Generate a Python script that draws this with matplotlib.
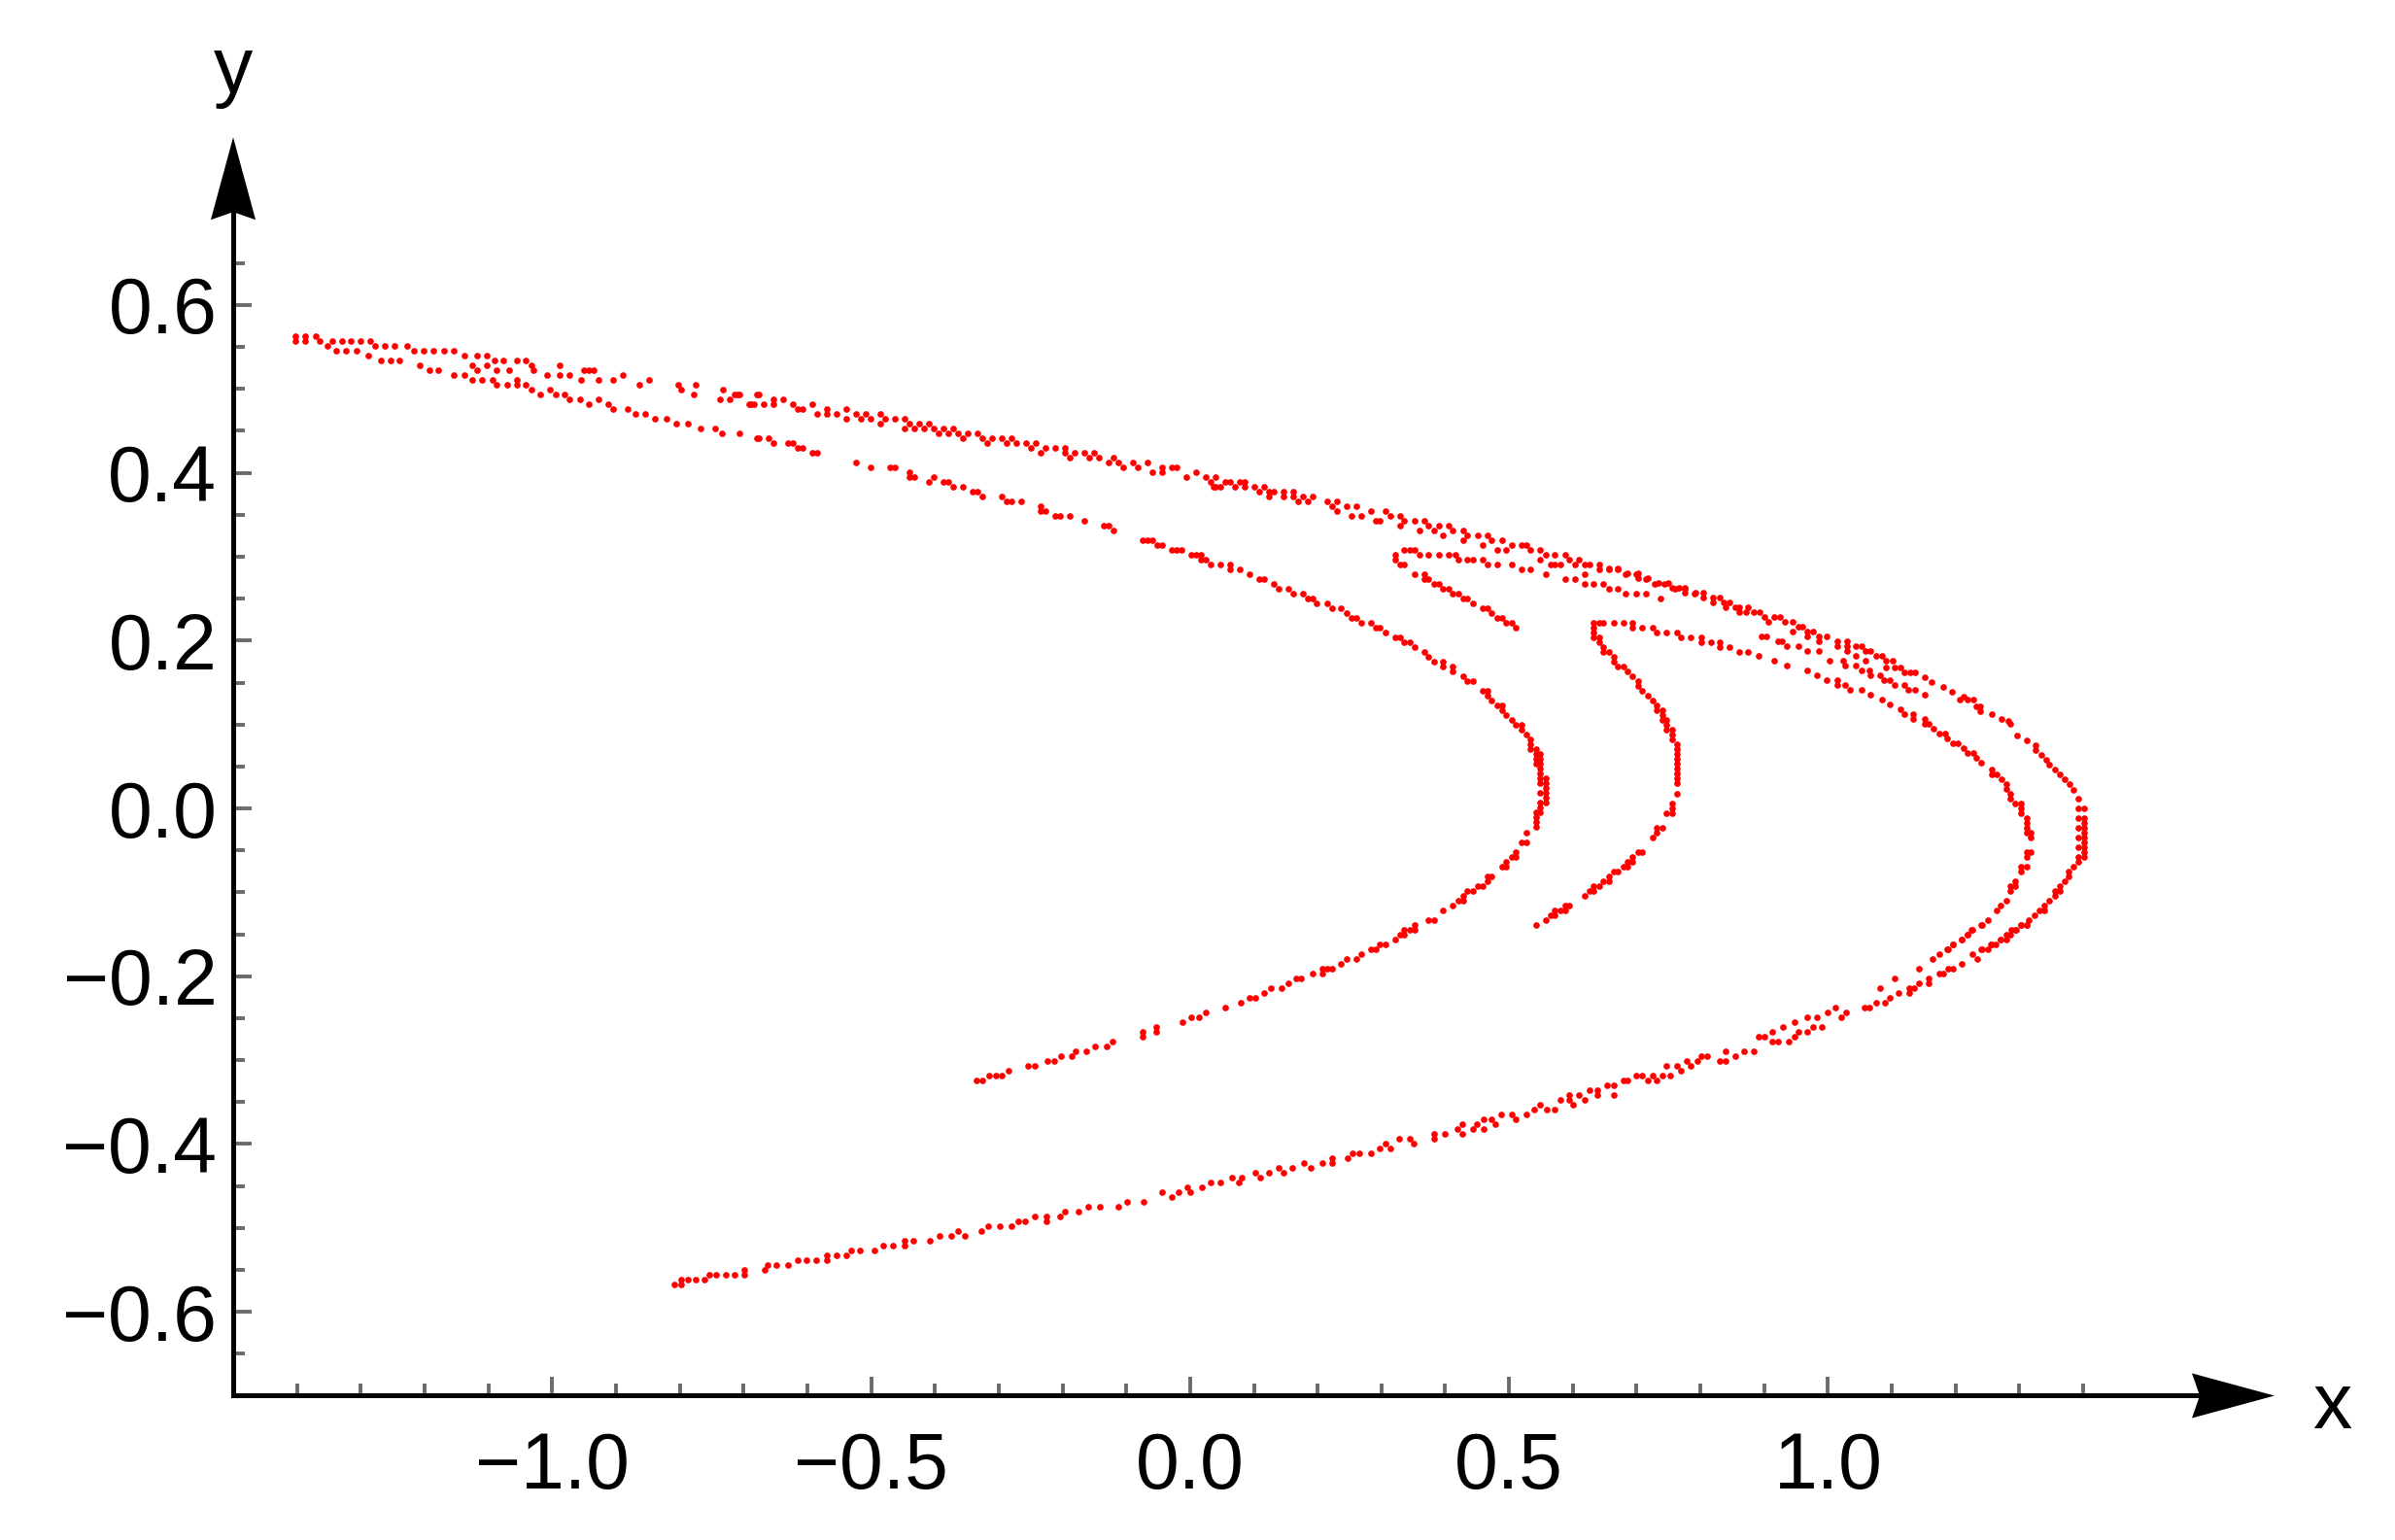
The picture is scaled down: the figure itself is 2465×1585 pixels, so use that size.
import numpy as np
import matplotlib
matplotlib.use("Agg")
import matplotlib.pyplot as plt
from matplotlib.patches import Polygon
import matplotlib.transforms as mtransforms

plt.rcParams['font.family'] = ['Liberation Sans', 'DejaVu Sans']

# ---------------- data: points, grouped by strand ----------------
band_left = [
    (-1.402, 0.563), (-1.387, 0.563), (-1.371, 0.563), (-1.402, 0.557), (-1.387, 0.557), (-1.364, 0.557),
    (-1.353, 0.551), (-1.345, 0.557), (-1.330, 0.557), (-1.315, 0.557), (-1.300, 0.557), (-1.285, 0.557),
    (-1.277, 0.551), (-1.262, 0.551), (-1.247, 0.551), (-1.228, 0.551), (-1.216, 0.545), (-1.201, 0.545),
    (-1.186, 0.545), (-1.170, 0.545), (-1.155, 0.545), (-1.137, 0.540), (-1.117, 0.540), (-1.102, 0.540),
    (-1.091, 0.534), (-1.076, 0.534), (-1.056, 0.534), (-1.041, 0.534), (-1.033, 0.528), (-0.988, 0.528),
    (-0.950, 0.522), (-0.935, 0.522),
    (-1.338, 0.545), (-1.323, 0.545), (-1.307, 0.545), (-1.289, 0.540), (-1.269, 0.534), (-1.254, 0.534),
    (-1.239, 0.534), (-1.208, 0.528), (-1.193, 0.522), (-1.178, 0.522), (-1.155, 0.517), (-1.137, 0.517),
    (-1.125, 0.511), (-1.110, 0.511), (-1.087, 0.505), (-1.071, 0.505), (-1.056, 0.505), (-1.041, 0.505),
    (-1.033, 0.499), (-1.018, 0.493), (-1.003, 0.499), (-0.995, 0.493), (-0.980, 0.493), (-0.973, 0.488),
    (-0.957, 0.488), (-0.942, 0.482), (-0.927, 0.488), (-0.912, 0.482), (-0.904, 0.476), (-0.881, 0.476),
    (-0.869, 0.470), (-0.854, 0.470), (-0.839, 0.464), (-0.820, 0.464), (-0.805, 0.459), (-0.787, 0.459),
    (-0.767, 0.453), (-0.744, 0.453), (-0.734, 0.447), (-0.706, 0.447), (-0.679, 0.441),
    (-1.125, 0.528), (-1.117, 0.522), (-1.102, 0.528), (-1.094, 0.511), (-1.087, 0.522), (-1.067, 0.522),
    (-1.056, 0.511), (-1.030, 0.522), (-1.008, 0.517), (-0.988, 0.517), (-0.973, 0.517), (-0.954, 0.511),
    (-0.942, 0.522), (-0.927, 0.511), (-0.904, 0.511), (-0.889, 0.517), (-0.863, 0.505), (-0.848, 0.511),
    (-0.802, 0.505), (-0.798, 0.499), (-0.775, 0.505), (-0.778, 0.493), (-0.732, 0.499), (-0.737, 0.488),
    (-0.709, 0.493), (-0.688, 0.482), (-0.679, 0.493),
]

band_mid = [
    (-0.714, 0.493), (-0.706, 0.493), (-0.721, 0.488), (-0.691, 0.482), (-0.683, 0.482), (-0.676, 0.493),
    (-0.668, 0.482), (-0.653, 0.488), (-0.653, 0.482), (-0.638, 0.488), (-0.623, 0.482), (-0.615, 0.476),
    (-0.607, 0.476), (-0.592, 0.482), (-0.584, 0.470), (-0.569, 0.476), (-0.569, 0.470), (-0.554, 0.470),
    (-0.539, 0.476), (-0.539, 0.464), (-0.524, 0.470), (-0.516, 0.464), (-0.508, 0.470), (-0.501, 0.464),
    (-0.486, 0.470), (-0.486, 0.459), (-0.478, 0.464), (-0.463, 0.464), (-0.447, 0.464), (-0.447, 0.453),
    (-0.440, 0.459), (-0.432, 0.453), (-0.425, 0.459), (-0.417, 0.453), (-0.409, 0.459), (-0.402, 0.453),
    (-0.394, 0.447), (-0.387, 0.453), (-0.379, 0.447), (-0.371, 0.453), (-0.364, 0.447), (-0.356, 0.441),
    (-0.349, 0.447), (-0.333, 0.447), (-0.326, 0.441), (-0.318, 0.435), (-0.311, 0.441), (-0.295, 0.441),
    (-0.288, 0.435), (-0.280, 0.441), (-0.272, 0.435), (-0.257, 0.435), (-0.250, 0.430), (-0.242, 0.435),
    (-0.234, 0.424), (-0.227, 0.430), (-0.212, 0.430), (-0.196, 0.424), (-0.196, 0.430), (-0.189, 0.418),
    (-0.181, 0.424), (-0.166, 0.424), (-0.158, 0.418), (-0.151, 0.424), (-0.143, 0.418), (-0.128, 0.412),
    (-0.120, 0.418), (-0.113, 0.412), (-0.105, 0.406), (-0.090, 0.412), (-0.082, 0.406), (-0.067, 0.412),
    (-0.059, 0.401), (-0.044, 0.406), (-0.044, 0.401), (-0.029, 0.406), (-0.021, 0.406), (-0.006, 0.395),
    (0.009, 0.401), (0.024, 0.395), (0.032, 0.389), (0.037, 0.383),
]

band_right = [
    (0.040, 0.395), (0.040, 0.383), (0.047, 0.383), (0.055, 0.389), (0.062, 0.389), (0.070, 0.383),
    (0.078, 0.389), (0.085, 0.389), (0.085, 0.383), (0.100, 0.383), (0.108, 0.378), (0.116, 0.383),
    (0.123, 0.378), (0.123, 0.372), (0.131, 0.378), (0.146, 0.378), (0.146, 0.372), (0.161, 0.378),
    (0.161, 0.372), (0.169, 0.366), (0.177, 0.372), (0.184, 0.366), (0.192, 0.372), (0.215, 0.366),
    (0.222, 0.360), (0.230, 0.366), (0.230, 0.354), (0.245, 0.360), (0.253, 0.349), (0.260, 0.360),
    (0.268, 0.349), (0.283, 0.354), (0.291, 0.343), (0.298, 0.343), (0.306, 0.354), (0.314, 0.349),
    (0.329, 0.349), (0.329, 0.337), (0.336, 0.343), (0.352, 0.343), (0.359, 0.331), (0.367, 0.343),
    (0.374, 0.337), (0.382, 0.331), (0.390, 0.337), (0.397, 0.325), (0.405, 0.337), (0.412, 0.331),
    (0.428, 0.331), (0.428, 0.320), (0.435, 0.325), (0.451, 0.325), (0.458, 0.314), (0.466, 0.325),
    (0.473, 0.320), (0.481, 0.308), (0.489, 0.320), (0.496, 0.308), (0.504, 0.314), (0.519, 0.314),
    (0.527, 0.314), (0.534, 0.308), (0.549, 0.308), (0.557, 0.302), (0.572, 0.302), (0.588, 0.302),
    (0.595, 0.296), (0.603, 0.291), (0.610, 0.296), (0.618, 0.291), (0.626, 0.291), (0.641, 0.291),
    (0.641, 0.285), (0.656, 0.285), (0.671, 0.285), (0.683, 0.279), (0.699, 0.279), (0.714, 0.273),
    (0.729, 0.268), (0.744, 0.268), (0.760, 0.262), (0.775, 0.262), (0.790, 0.256),
    (0.618, 0.279), (0.618, 0.268), (0.633, 0.268), (0.648, 0.268), (0.656, 0.262), (0.671, 0.262),
    (0.683, 0.256), (0.699, 0.256), (0.714, 0.256), (0.737, 0.250), (0.588, 0.273), (0.603, 0.273),
    (0.557, 0.279), (0.565, 0.291), (0.580, 0.291), (0.549, 0.296),
]

hook_small = [
    (0.321, 0.302), (0.321, 0.296), (0.329, 0.291), (0.336, 0.291), (0.336, 0.308), (0.344, 0.308),
    (0.352, 0.308), (0.359, 0.302), (0.374, 0.302), (0.390, 0.302), (0.405, 0.302), (0.416, 0.302),
    (0.420, 0.296), (0.435, 0.296), (0.443, 0.296), (0.458, 0.296), (0.466, 0.291), (0.481, 0.291),
    (0.504, 0.291), (0.519, 0.285), (0.534, 0.285), (0.572, 0.291),
    (0.352, 0.279), (0.367, 0.279), (0.367, 0.273), (0.374, 0.273), (0.382, 0.268), (0.390, 0.268),
    (0.397, 0.262), (0.405, 0.262), (0.412, 0.256), (0.420, 0.256), (0.428, 0.250), (0.435, 0.250),
    (0.443, 0.244), (0.458, 0.239), (0.466, 0.239), (0.473, 0.233), (0.481, 0.227), (0.489, 0.227),
    (0.496, 0.221), (0.504, 0.221), (0.511, 0.215),
]

inner_c_upper = [
    (-0.676, 0.441), (-0.661, 0.441), (-0.653, 0.435), (-0.630, 0.435), (-0.623, 0.435), (-0.615, 0.430),
    (-0.607, 0.430), (-0.592, 0.424), (-0.584, 0.424), (-0.524, 0.412), (-0.501, 0.406), (-0.470, 0.406),
    (-0.463, 0.406), (-0.440, 0.401), (-0.440, 0.395), (-0.432, 0.395), (-0.409, 0.389), (-0.402, 0.395),
    (-0.387, 0.389), (-0.379, 0.389), (-0.371, 0.383), (-0.356, 0.383), (-0.341, 0.378), (-0.333, 0.378),
    (-0.326, 0.372), (-0.295, 0.372), (-0.288, 0.366), (-0.280, 0.366), (-0.265, 0.366), (-0.234, 0.360),
    (-0.234, 0.354), (-0.227, 0.354), (-0.212, 0.349), (-0.204, 0.349), (-0.189, 0.349), (-0.166, 0.343),
    (-0.135, 0.337), (-0.128, 0.337), (-0.120, 0.331), (-0.075, 0.320), (-0.067, 0.320), (-0.059, 0.320),
    (-0.052, 0.314), (-0.044, 0.314), (-0.029, 0.308), (-0.021, 0.308), (-0.014, 0.308), (0.002, 0.302),
    (0.009, 0.302), (0.017, 0.302), (0.017, 0.296), (0.024, 0.296), (0.032, 0.291),
    (0.047, 0.291), (0.062, 0.291), (0.062, 0.285), (0.078, 0.285), (0.093, 0.279), (0.108, 0.273),
    (0.116, 0.273), (0.131, 0.268), (0.139, 0.262), (0.154, 0.262), (0.161, 0.256), (0.177, 0.256),
    (0.184, 0.250), (0.192, 0.250), (0.199, 0.244), (0.215, 0.244), (0.222, 0.239), (0.237, 0.239),
    (0.245, 0.233), (0.253, 0.227), (0.260, 0.227), (0.268, 0.221), (0.283, 0.221), (0.291, 0.215),
    (0.298, 0.215), (0.306, 0.210), (0.321, 0.204), (0.329, 0.204), (0.336, 0.198), (0.344, 0.198),
    (0.352, 0.192), (0.367, 0.186), (0.374, 0.181), (0.382, 0.175), (0.397, 0.175), (0.397, 0.169),
    (0.412, 0.169), (0.412, 0.163), (0.428, 0.158), (0.435, 0.152), (0.443, 0.152), (0.458, 0.140),
    (0.466, 0.140), (0.466, 0.134), (0.473, 0.129), (0.481, 0.123), (0.489, 0.123), (0.489, 0.117),
    (0.496, 0.111), (0.504, 0.105), (0.511, 0.100), (0.519, 0.100), (0.519, 0.094), (0.527, 0.088),
    (0.534, 0.082), (0.534, 0.076), (0.534, 0.071),
]

inner_c_lower = [
    (0.542, 0.071), (0.542, 0.065), (0.542, 0.059), (0.542, 0.053), (0.549, 0.065), (0.549, 0.059),
    (0.549, 0.053), (0.549, 0.047), (0.549, 0.042), (0.549, 0.036), (0.557, 0.036), (0.557, 0.030),
    (0.557, 0.024), (0.557, 0.019), (0.557, 0.013), (0.557, 0.007), (0.549, 0.030), (0.549, 0.019),
    (0.549, 0.007), (0.549, 0.001), (0.549, -0.005), (0.542, -0.005), (0.542, -0.010), (0.542, -0.016),
    (0.542, -0.022), (0.527, -0.029), (0.519, -0.041), (0.527, -0.041), (0.511, -0.052), (0.511, -0.058),
    (0.504, -0.058), (0.496, -0.064), (0.496, -0.069), (0.489, -0.069), (0.473, -0.081), (0.466, -0.081),
    (0.466, -0.087), (0.458, -0.093), (0.451, -0.093), (0.443, -0.098), (0.435, -0.098), (0.428, -0.104),
    (0.428, -0.110), (0.420, -0.110), (0.412, -0.116), (0.397, -0.122), (0.382, -0.133), (0.374, -0.133),
    (0.352, -0.139), (0.352, -0.145), (0.344, -0.145), (0.336, -0.145), (0.336, -0.151), (0.329, -0.151),
    (0.321, -0.156), (0.306, -0.162), (0.298, -0.162), (0.291, -0.168), (0.283, -0.168), (0.268, -0.174),
    (0.260, -0.180), (0.245, -0.180), (0.237, -0.185), (0.222, -0.191), (0.215, -0.191), (0.207, -0.191),
    (0.207, -0.197), (0.192, -0.197), (0.174, -0.203), (0.167, -0.203), (0.154, -0.208), (0.143, -0.214),
    (0.126, -0.214), (0.116, -0.220), (0.103, -0.226), (0.093, -0.226), (0.079, -0.232), (0.055, -0.237),
    (0.024, -0.243), (0.014, -0.249), (0.002, -0.249), (-0.012, -0.255), (-0.053, -0.261), (-0.053, -0.266),
    (-0.075, -0.266), (-0.075, -0.272), (-0.122, -0.278), (-0.131, -0.284), (-0.149, -0.284), (-0.163, -0.290),
    (-0.180, -0.290), (-0.186, -0.295), (-0.202, -0.295), (-0.213, -0.301), (-0.224, -0.301), (-0.244, -0.307),
    (-0.254, -0.307), (-0.285, -0.313), (-0.295, -0.318), (-0.304, -0.318), (-0.315, -0.318), (-0.326, -0.324),
    (-0.335, -0.324),
]

middle_c = [
    (0.633, 0.221), (0.633, 0.215), (0.633, 0.210), (0.633, 0.204), (0.641, 0.221), (0.648, 0.221),
    (0.664, 0.221), (0.679, 0.221), (0.694, 0.221), (0.694, 0.215), (0.709, 0.215), (0.725, 0.215),
    (0.732, 0.210), (0.747, 0.210), (0.763, 0.210), (0.770, 0.204), (0.785, 0.204), (0.801, 0.204),
    (0.801, 0.198), (0.816, 0.198), (0.831, 0.198), (0.831, 0.192), (0.846, 0.192), (0.861, 0.186),
    (0.874, 0.186),
    (0.641, 0.204), (0.641, 0.198), (0.648, 0.192), (0.648, 0.186), (0.656, 0.186), (0.664, 0.181),
    (0.664, 0.175), (0.671, 0.169), (0.679, 0.169), (0.686, 0.163), (0.694, 0.158), (0.702, 0.152),
    (0.702, 0.146), (0.709, 0.140), (0.717, 0.134), (0.725, 0.129), (0.732, 0.123), (0.732, 0.117),
    (0.740, 0.117), (0.740, 0.111), (0.740, 0.105), (0.747, 0.105), (0.747, 0.100), (0.747, 0.094),
    (0.755, 0.094), (0.755, 0.088), (0.755, 0.082), (0.763, 0.076), (0.763, 0.071), (0.763, 0.065),
    (0.763, 0.059), (0.763, 0.053), (0.763, 0.047), (0.763, 0.042), (0.763, 0.036), (0.763, 0.030),
    (0.763, 0.017), (0.755, 0.006), (0.755, 0.000), (0.755, -0.006), (0.747, -0.006), (0.740, -0.023),
    (0.732, -0.023), (0.732, -0.029), (0.725, -0.035), (0.709, -0.052), (0.702, -0.052), (0.694, -0.058),
    (0.694, -0.064), (0.686, -0.064), (0.686, -0.069), (0.679, -0.069), (0.671, -0.075), (0.664, -0.075),
    (0.656, -0.081), (0.656, -0.087), (0.648, -0.087), (0.641, -0.093), (0.633, -0.093), (0.633, -0.098),
    (0.626, -0.098), (0.618, -0.104), (0.595, -0.116), (0.588, -0.116), (0.588, -0.122), (0.580, -0.122),
    (0.572, -0.122), (0.572, -0.127), (0.565, -0.127), (0.557, -0.133), (0.542, -0.139),
]

tip_outer = [
    (0.656, 0.286), (0.670, 0.286), (0.686, 0.280), (0.702, 0.280), (0.702, 0.274), (0.718, 0.274),
    (0.734, 0.269), (0.750, 0.269), (0.755, 0.263), (0.766, 0.263), (0.776, 0.263), (0.776, 0.257),
    (0.793, 0.257), (0.804, 0.257), (0.804, 0.251), (0.819, 0.251), (0.830, 0.251), (0.819, 0.246),
    (0.836, 0.246), (0.846, 0.246), (0.840, 0.240), (0.854, 0.240), (0.861, 0.240), (0.861, 0.234),
    (0.875, 0.240), (0.871, 0.234), (0.883, 0.234), (0.893, 0.234), (0.900, 0.228), (0.907, 0.222),
    (0.915, 0.228), (0.924, 0.228), (0.932, 0.222), (0.945, 0.222), (0.945, 0.211), (0.953, 0.217),
    (0.960, 0.217), (0.968, 0.211), (0.977, 0.211), (0.968, 0.205), (0.985, 0.205), (0.998, 0.205),
    (0.985, 0.199), (1.014, 0.199), (1.014, 0.193), (1.030, 0.199), (1.030, 0.193), (1.030, 0.188),
    (1.044, 0.193), (1.052, 0.193), (1.044, 0.182), (1.059, 0.188), (1.067, 0.188), (1.059, 0.176),
    (1.076, 0.182), (1.084, 0.182), (1.091, 0.176), (1.102, 0.176), (1.091, 0.168), (1.105, 0.168),
    (1.113, 0.168), (1.120, 0.162), (1.129, 0.162), (1.137, 0.162), (1.151, 0.156), (1.163, 0.151),
    (1.180, 0.145), (1.195, 0.139), (1.212, 0.133), (1.228, 0.130), (1.239, 0.122), (1.239, 0.116),
    (1.257, 0.112), (1.272, 0.107), (1.282, 0.104), (1.286, 0.101), (1.297, 0.087), (1.311, 0.081),
    (1.326, 0.075), (1.326, 0.069), (1.335, 0.064), (1.342, 0.058), (1.347, 0.052), (1.356, 0.046),
    (1.364, 0.041), (1.371, 0.035), (1.379, 0.029), (1.385, 0.022), (1.393, 0.012), (1.393, 0.000),
    (1.402, 0.000), (1.393, -0.012), (1.402, -0.012), (1.402, -0.017), (1.393, -0.023), (1.402, -0.023),
    (1.402, -0.029), (1.393, -0.035), (1.402, -0.035), (1.402, -0.041), (1.393, -0.046), (1.402, -0.046),
    (1.402, -0.052), (1.402, -0.058), (1.393, -0.058), (1.393, -0.064), (1.385, -0.069), (1.377, -0.075),
    (1.377, -0.081), (1.371, -0.087), (1.364, -0.093), (1.364, -0.098), (1.356, -0.098), (1.356, -0.104),
    (1.347, -0.110), (1.339, -0.116), (1.339, -0.122), (1.332, -0.122), (1.324, -0.127), (1.315, -0.133),
    (1.311, -0.139), (1.303, -0.139), (1.294, -0.145), (1.286, -0.151), (1.279, -0.156), (1.271, -0.156),
    (1.257, -0.162), (1.250, -0.168), (1.240, -0.168),
]

tip_inner = [
    (0.892, 0.182), (0.915, 0.176), (0.936, 0.170), (0.968, 0.164), (0.982, 0.159), (0.998, 0.153),
    (1.014, 0.153), (1.014, 0.147), (1.027, 0.147), (1.035, 0.141), (1.052, 0.141), (1.067, 0.135),
    (1.084, 0.130), (1.097, 0.124), (1.113, 0.118), (1.119, 0.112), (1.134, 0.112), (1.134, 0.107),
    (1.151, 0.107), (1.151, 0.101), (1.158, 0.101), (1.166, 0.095), (1.174, 0.089), (1.183, 0.089),
    (1.187, 0.083), (1.196, 0.078), (1.204, 0.078), (1.212, 0.072), (1.219, 0.066), (1.228, 0.066),
    (1.233, 0.060), (1.240, 0.054), (1.257, 0.046), (1.257, 0.041), (1.265, 0.041), (1.272, 0.035),
    (1.279, 0.029), (1.279, 0.023), (1.286, 0.017), (1.286, 0.012), (1.294, 0.006), (1.303, 0.006),
    (1.303, 0.000), (1.303, -0.006), (1.311, -0.012), (1.311, -0.017), (1.311, -0.023), (1.311, -0.029),
    (1.318, -0.029), (1.318, -0.035), (1.311, -0.052), (1.318, -0.052), (1.311, -0.058), (1.303, -0.069),
    (1.311, -0.069), (1.303, -0.075), (1.294, -0.087), (1.294, -0.093), (1.286, -0.093), (1.286, -0.098),
    (1.279, -0.110), (1.271, -0.116), (1.265, -0.122), (1.250, -0.133), (1.240, -0.139), (1.225, -0.145),
    (1.218, -0.151), (1.209, -0.156), (1.196, -0.162), (1.187, -0.168),
]

tip_middle = [
    (0.896, 0.205), (0.904, 0.205), (0.921, 0.199), (0.928, 0.199), (0.936, 0.193), (0.953, 0.193),
    (0.968, 0.188), (0.985, 0.188), (1.003, 0.176), (1.023, 0.176), (1.027, 0.170), (1.044, 0.170),
    (1.052, 0.164), (1.065, 0.164), (1.067, 0.159), (1.081, 0.159), (1.087, 0.153), (1.097, 0.153),
    (1.105, 0.147), (1.119, 0.147), (1.126, 0.141), (1.137, 0.141), (1.151, 0.135), (1.207, 0.130),
    (1.219, 0.130), (1.233, 0.122),
]

bottom_arm = [
    (-0.808, -0.567), (-0.798, -0.567), (-0.798, -0.562), (-0.787, -0.562), (-0.775, -0.562), (-0.761, -0.562),
    (-0.753, -0.556), (-0.743, -0.556), (-0.728, -0.556), (-0.714, -0.556), (-0.699, -0.556), (-0.699, -0.550),
    (-0.667, -0.550), (-0.662, -0.544), (-0.648, -0.544), (-0.630, -0.544), (-0.615, -0.539), (-0.601, -0.539),
    (-0.586, -0.539), (-0.569, -0.539), (-0.569, -0.533), (-0.554, -0.533), (-0.539, -0.533), (-0.531, -0.527),
    (-0.518, -0.527), (-0.495, -0.527), (-0.481, -0.521), (-0.466, -0.521), (-0.447, -0.521), (-0.447, -0.515),
    (-0.434, -0.515), (-0.408, -0.515), (-0.393, -0.510), (-0.374, -0.510), (-0.364, -0.504), (-0.353, -0.510),
    (-0.327, -0.504), (-0.317, -0.498), (-0.298, -0.498), (-0.280, -0.498), (-0.269, -0.492), (-0.259, -0.492),
    (-0.244, -0.486), (-0.225, -0.486), (-0.225, -0.492), (-0.204, -0.486), (-0.196, -0.481), (-0.175, -0.481),
    (-0.160, -0.475), (-0.142, -0.475), (-0.113, -0.475), (-0.099, -0.469), (-0.073, -0.469), (-0.044, -0.457),
    (-0.029, -0.463), (-0.018, -0.457), (-0.005, -0.452), (0.000, -0.457), (0.018, -0.452), (0.032, -0.446),
    (0.047, -0.446), (0.065, -0.440), (0.076, -0.446), (0.081, -0.440), (0.102, -0.434), (0.110, -0.440),
    (0.123, -0.434), (0.139, -0.428), (0.146, -0.434), (0.160, -0.428), (0.178, -0.423), (0.189, -0.428),
    (0.207, -0.423), (0.222, -0.417), (0.222, -0.423), (0.247, -0.417), (0.254, -0.411), (0.265, -0.411),
    (0.283, -0.411), (0.297, -0.405), (0.306, -0.400), (0.314, -0.405), (0.327, -0.394), (0.344, -0.394),
    (0.350, -0.400), (0.382, -0.388), (0.382, -0.394), (0.399, -0.388), (0.419, -0.382), (0.426, -0.376),
    (0.426, -0.388), (0.443, -0.382), (0.449, -0.376), (0.460, -0.371), (0.460, -0.382), (0.473, -0.371),
    (0.479, -0.376), (0.487, -0.365), (0.504, -0.365), (0.510, -0.371), (0.527, -0.365), (0.540, -0.359),
    (0.548, -0.353), (0.559, -0.359),
    (0.572, -0.359), (0.580, -0.347), (0.594, -0.347), (0.594, -0.342), (0.610, -0.342), (0.601, -0.353),
    (0.618, -0.347), (0.626, -0.336), (0.639, -0.336), (0.639, -0.342), (0.654, -0.330), (0.664, -0.330),
    (0.664, -0.342), (0.679, -0.324), (0.686, -0.324), (0.700, -0.318), (0.708, -0.318), (0.717, -0.324),
    (0.725, -0.318), (0.732, -0.324), (0.740, -0.318), (0.746, -0.307), (0.753, -0.318), (0.763, -0.307),
    (0.770, -0.313), (0.778, -0.301), (0.785, -0.307), (0.795, -0.301), (0.802, -0.295), (0.810, -0.295),
    (0.831, -0.301), (0.839, -0.290), (0.839, -0.301), (0.854, -0.295), (0.869, -0.290), (0.884, -0.290),
    (0.892, -0.272), (0.901, -0.272), (0.913, -0.266), (0.913, -0.278), (0.922, -0.278), (0.930, -0.261),
    (0.938, -0.278), (0.947, -0.255), (0.947, -0.272), (0.954, -0.266), (0.968, -0.249), (0.968, -0.266),
    (0.976, -0.261), (0.983, -0.249), (0.991, -0.261), (1.000, -0.243), (1.012, -0.237), (1.021, -0.249),
    (1.029, -0.243), (1.058, -0.237), (1.065, -0.237), (1.075, -0.232), (1.082, -0.214), (1.090, -0.232),
    (1.097, -0.226), (1.105, -0.203), (1.111, -0.220), (1.128, -0.220), (1.128, -0.214), (1.135, -0.214),
    (1.143, -0.191), (1.143, -0.208), (1.158, -0.203), (1.158, -0.208), (1.164, -0.180), (1.174, -0.174),
    (1.174, -0.197), (1.181, -0.197), (1.189, -0.168), (1.189, -0.191), (1.196, -0.162), (1.196, -0.191),
    (1.210, -0.156), (1.210, -0.185), (1.218, -0.151), (1.227, -0.145), (1.227, -0.174), (1.234, -0.180),
    (1.242, -0.139), (1.242, -0.168), (1.256, -0.162), (1.263, -0.162), (1.271, -0.156), (1.280, -0.151),
    (1.288, -0.145), (1.295, -0.145), (1.303, -0.139), (1.312, -0.139),
]

x_major = [-1.0, -0.5, 0.0, 0.5, 1.0]
x_major_labels = ["\u22121.0", "\u22120.5", "0.0", "0.5", "1.0"]
y_major = [-0.6, -0.4, -0.2, 0.0, 0.2, 0.4, 0.6]
y_major_labels = ["\u22120.6", "\u22120.4", "\u22120.2", "0.0", "0.2", "0.4", "0.6"]
x_minor = [-1.4, -1.3, -1.2, -1.1, -0.9, -0.8, -0.7, -0.6, -0.4, -0.3, -0.2, -0.1,
           0.1, 0.2, 0.3, 0.4, 0.6, 0.7, 0.8, 0.9, 1.1, 1.2, 1.3, 1.4]
y_minor = [-0.65, -0.55, -0.5, -0.45, -0.35, -0.3, -0.25, -0.15, -0.1, -0.05,
           0.05, 0.1, 0.15, 0.25, 0.3, 0.35, 0.45, 0.5, 0.55, 0.65]
x_range = (-1.5, 1.7)
y_range = (-0.7, 0.8)

# ---------------- figure ----------------
W, H, DPI = 2465, 1585, 100
fig = plt.figure(figsize=(W / DPI, H / DPI), dpi=DPI)
ax = fig.add_axes([240 / W, 0.0937, 2101 / W, 0.8172])

strands = [band_left, band_mid, band_right, hook_small, inner_c_upper, inner_c_lower,
           middle_c, tip_outer, tip_inner, tip_middle, bottom_arm]
pts = np.array([p for s in strands for p in s])
ax.plot(pts[:, 0], pts[:, 1], linestyle='none', marker='o', markersize=4.8,
        markerfacecolor='#ff0000', markeredgecolor='none', zorder=3)

ax.set_xlim(*x_range)
ax.set_ylim(*y_range)

for side in ['top', 'right']:
    ax.spines[side].set_visible(False)
for side in ['left', 'bottom']:
    ax.spines[side].set_linewidth(3.6)
    ax.spines[side].set_color('black')
ax.spines['left'].set_bounds(y_range[0], y_range[1] - 0.05)
ax.spines['bottom'].set_bounds(x_range[0], x_range[1] - 0.05)

ax.set_xticks(x_major)
ax.set_xticklabels(x_major_labels)
ax.set_yticks(y_major)
ax.set_yticklabels(y_major_labels)
ax.set_xticks(x_minor, minor=True)
ax.set_yticks(y_minor, minor=True)

ax.tick_params(which='major', direction='in', length=14.0, width=2.8, color='#6b6b6b',
               labelsize=58, labelcolor='black')
ax.tick_params(which='minor', direction='in', length=8.5, width=2.8, color='#6b6b6b')
ax.tick_params(axis='x', which='major', pad=26)
ax.tick_params(axis='y', which='major', pad=12)

# arrow heads (offsets in points from the axis ends)
pt2px = mtransforms.Affine2D().scale(DPI / 72.0)
head_len, head_half, notch = 61.2, 16.6, 55.4
tr_up = pt2px + mtransforms.ScaledTranslation(0, 1, ax.transAxes)
ax.add_patch(Polygon([(0, 0), (-head_half, -head_len), (0, -notch), (head_half, -head_len)],
                     closed=True, transform=tr_up, facecolor='black', edgecolor='none',
                     clip_on=False, zorder=5))
tr_right = pt2px + mtransforms.ScaledTranslation(1, 0, ax.transAxes)
ax.add_patch(Polygon([(0, 0), (-head_len, head_half), (-notch, 0), (-head_len, -head_half)],
                     closed=True, transform=tr_right, facecolor='black', edgecolor='none',
                     clip_on=False, zorder=5))

ax.annotate('y', xy=(0, 1), xycoords='axes fraction', xytext=(0, 33), textcoords='offset points',
            ha='center', va='baseline', fontsize=58)
ax.annotate('x', xy=(1, 0), xycoords='axes fraction', xytext=(28, -24), textcoords='offset points',
            ha='left', va='baseline', fontsize=58)

fig.savefig('out.png', dpi=DPI)
